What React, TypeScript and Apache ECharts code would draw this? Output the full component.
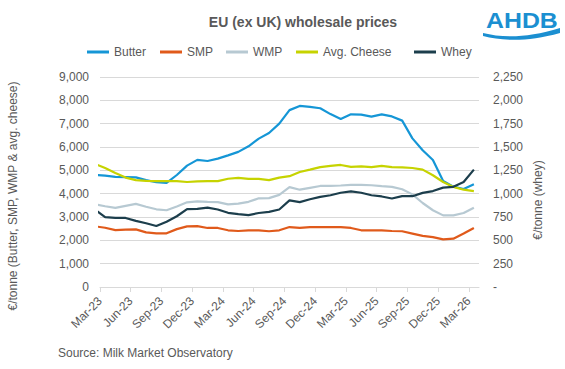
import React, { useEffect, useRef } from "react";
import * as echarts from "echarts";

// Monthly observations (plotted at mid-month), Feb-23 .. Mar-26
const months = [
  "Feb-23", "Mar-23", "Apr-23", "May-23", "Jun-23", "Jul-23", "Aug-23", "Sep-23", "Oct-23", "Nov-23",
  "Dec-23", "Jan-24", "Feb-24", "Mar-24", "Apr-24", "May-24", "Jun-24", "Jul-24", "Aug-24", "Sep-24",
  "Oct-24", "Nov-24", "Dec-24", "Jan-25", "Feb-25", "Mar-25", "Apr-25", "May-25", "Jun-25", "Jul-25",
  "Aug-25", "Sep-25", "Oct-25", "Nov-25", "Dec-25", "Jan-26", "Feb-26", "Mar-26",
];

const butter = [
  4810, 4770, 4720, 4710, 4700, 4580, 4490, 4460, 4800, 5200,
  5450, 5400, 5500, 5640, 5790, 6030, 6360, 6600, 7000, 7580,
  7760, 7720, 7660, 7410, 7200, 7400, 7390, 7300, 7400, 7310,
  7130, 6370, 5860, 5440, 4540, 4300, 4200, 4400,
];
const smp = [
  2600, 2540, 2440, 2460, 2470, 2340, 2300, 2300, 2480, 2600,
  2610, 2530, 2530, 2430, 2400, 2430, 2430, 2390, 2430, 2570,
  2530, 2570, 2570, 2570, 2570, 2530, 2430, 2430, 2430, 2400,
  2390, 2290, 2190, 2140, 2040, 2070, 2290, 2530,
];
const wmp = [
  3550, 3460, 3390, 3480, 3560, 3440, 3330, 3290, 3450, 3630,
  3670, 3650, 3640, 3540, 3570, 3650, 3800, 3810, 3950, 4280,
  4170, 4250, 4330, 4330, 4350, 4380, 4380, 4360, 4320, 4290,
  4190, 3970, 3600, 3290, 3070, 3070, 3170, 3400,
];
const cheese = [
  5280, 5100, 4890, 4690, 4580, 4550, 4540, 4540, 4540, 4500,
  4530, 4540, 4540, 4640, 4680, 4630, 4630, 4580, 4690, 4750,
  4930, 5030, 5140, 5190, 5230, 5150, 5170, 5140, 5190, 5140,
  5130, 5100, 5030, 4790, 4500, 4290, 4170, 4110,
];
const whey = [
  830, 748, 740, 740, 708, 683, 653, 700, 758, 835,
  838, 850, 830, 795, 780, 770, 793, 805, 830, 928,
  910, 940, 965, 983, 1010, 1025, 1010, 983, 970, 948,
  973, 973, 1008, 1028, 1065, 1073, 1125, 1258,
];

const tickLabels = [
  "Mar-23", "Jun-23", "Sep-23", "Dec-23", "Mar-24", "Jun-24", "Sep-24",
  "Dec-24", "Mar-25", "Jun-25", "Sep-25", "Dec-25", "Mar-26",
];

const seriesNames = ["Butter", "SMP", "WMP", "Avg. Cheese", "Whey"];

const COLORS = {
  butter: "#1596d6",
  smp: "#e05a1b",
  wmp: "#b7c9d2",
  cheese: "#c6d300",
  whey: "#1c3e4c",
};
const TEXT = "#595959";
const FONT = "'Liberation Sans', Arial, sans-serif";

// x axis counts months from start of Mar-23; each observation sits mid-month
const monthPos = (j: number) => j - 1 + 0.5;
const tickValues = tickLabels.map((_, i) => i * 3);
const legendLeft = [87, 160, 226, 296, 414];

const wavePath = "M0,5 C20,10 45,10 77,0 L77,5 C45,14 20,13 0,8 Z";
echarts.graphic.registerShape("ahdbwave", echarts.graphic.extendPath(wavePath, {}) as any);

export default function App() {
  const ref = useRef<HTMLDivElement>(null);
  useEffect(() => {
    if (!ref.current) return;
    const chart = echarts.init(ref.current, null, { renderer: "svg" });
    const mk = (name: string, arr: number[], color: string, yIdx = 0) => ({
      name,
      type: "line",
      yAxisIndex: yIdx,
      data: months.map((_, j) => [monthPos(j), arr[j]]),
      showSymbol: false,
      symbol: "none",
      clip: true,
      lineStyle: { color, width: 2.2 },
      itemStyle: { color },
    });
    const fmt = (v: number) => v.toLocaleString("en-US");
    chart.setOption({
      animation: false,
      textStyle: { fontFamily: FONT },
      grid: { left: 100, right: 86, top: 77, bottom: 82, containLabel: false },
      legend: seriesNames.map((n, i) => ({
        top: 46,
        left: legendLeft[i],
        padding: 0,
        icon: "rect",
        itemWidth: 22,
        itemHeight: 3,
        textStyle: { color: TEXT, fontSize: 12, fontFamily: FONT },
        data: [n],
      })),
      xAxis: {
        type: "value",
        min: 0,
        max: 37,
        interval: 3,
        axisLine: { show: true, lineStyle: { color: "#d9d9d9" } },
        axisTick: { show: true, customValues: tickValues, length: 5, lineStyle: { color: "#d9d9d9" } },
        axisLabel: {
          customValues: tickValues,
          formatter: (v: number) => tickLabels[Math.round(v / 3)] ?? "",
          rotate: 45,
          fontSize: 12,
          color: TEXT,
          margin: 12,
          fontFamily: FONT,
        },
        splitLine: { show: false },
      },
      yAxis: [
        {
          type: "value",
          min: 0,
          max: 9000,
          interval: 1000,
          axisLine: { show: false },
          axisTick: { show: false },
          axisLabel: { formatter: fmt, fontSize: 12, color: TEXT, margin: 11, fontFamily: FONT },
          splitLine: { lineStyle: { color: "#d9d9d9", width: 1 } },
        },
        {
          type: "value",
          min: 0,
          max: 2250,
          interval: 250,
          axisLine: { show: false },
          axisTick: { show: false },
          axisLabel: {
            formatter: (v: number) => (v === 0 ? "-" : fmt(v)),
            fontSize: 12,
            color: TEXT,
            margin: 14,
            fontFamily: FONT,
          },
          splitLine: { show: false },
        },
      ],
      series: [
        mk(seriesNames[0], butter, COLORS.butter),
        mk(seriesNames[1], smp, COLORS.smp),
        mk(seriesNames[2], wmp, COLORS.wmp),
        mk(seriesNames[3], cheese, COLORS.cheese),
        mk(seriesNames[4], whey, COLORS.whey, 1),
      ],
      graphic: [
        {
          type: "text",
          x: 303,
          y: 22,
          style: {
            text: "EU (ex UK) wholesale prices",
            fill: TEXT,
            font: `bold 14px ${FONT}`,
            align: "center",
            verticalAlign: "middle",
          },
        },
        {
          type: "text",
          x: 486,
          y: 20.5,
          scaleX: 1.13,
          style: {
            text: "AHDB",
            fill: "#1b8fd1",
            font: `bold 22px ${FONT}`,
            align: "left",
            verticalAlign: "middle",
          },
        },
        {
          type: "ahdbwave",
          x: 483,
          y: 28,
          style: { fill: "#1b8fd1" },
        },
        {
          type: "text",
          x: 13,
          y: 196,
          rotation: Math.PI / 2,
          style: {
            text: "€/tonne (Butter, SMP, WMP & avg. cheese)",
            fill: TEXT,
            font: `12px ${FONT}`,
            align: "center",
            verticalAlign: "middle",
          },
        },
        {
          type: "text",
          x: 538,
          y: 200,
          rotation: Math.PI / 2,
          style: {
            text: "€/tonne (whey)",
            fill: TEXT,
            font: `12px ${FONT}`,
            align: "center",
            verticalAlign: "middle",
          },
        },
        {
          type: "text",
          x: 58,
          y: 353,
          style: {
            text: "Source: Milk Market Observatory",
            fill: TEXT,
            font: `12px ${FONT}`,
            align: "left",
            verticalAlign: "middle",
          },
        },
      ],
    });
    return () => chart.dispose();
  }, []);
  return (
    <div
      ref={ref}
      style={{ position: "fixed", left: 0, top: 0, width: 565, height: 369, background: "#fff" }}
    />
  );
}
